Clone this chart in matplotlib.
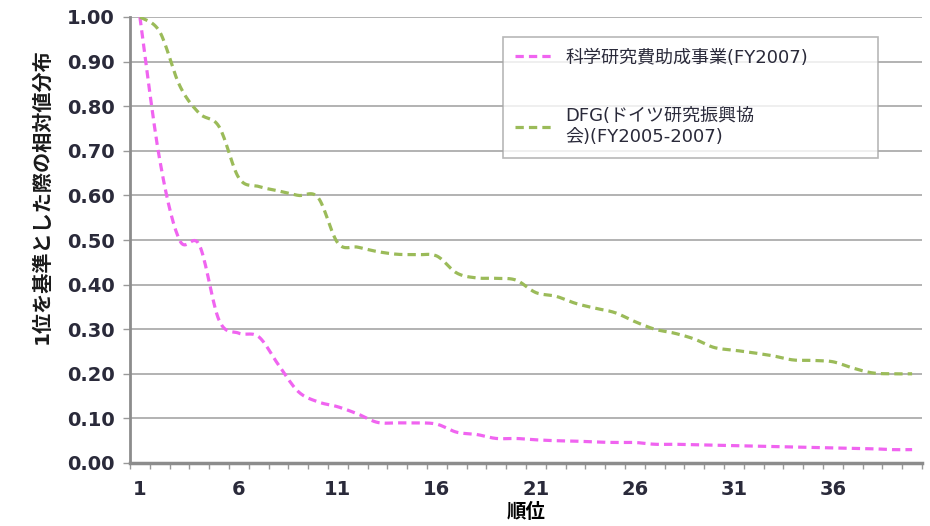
import numpy as np
import matplotlib
matplotlib.use("Agg")
import matplotlib.pyplot as plt

plt.rcParams['font.family'] = ['DejaVu Sans', 'Noto Sans CJK JP']

# ranks 1..40
ranks = list(range(1, 41))

kaken = [1.00, 0.68, 0.50, 0.489, 0.32, 0.291, 0.283, 0.22, 0.16, 0.137,
         0.126, 0.110, 0.091, 0.090, 0.090, 0.087, 0.069, 0.064, 0.055, 0.055,
         0.052, 0.050, 0.049, 0.047, 0.046, 0.046, 0.042, 0.042, 0.041, 0.040,
         0.039, 0.038, 0.037, 0.036, 0.035, 0.034, 0.033, 0.032, 0.030, 0.030]

dfg = [1.00, 0.967, 0.847, 0.784, 0.754, 0.639, 0.620, 0.610, 0.600, 0.595,
       0.493, 0.484, 0.474, 0.468, 0.467, 0.464, 0.426, 0.415, 0.414, 0.410,
       0.382, 0.374, 0.358, 0.347, 0.337, 0.317, 0.300, 0.291, 0.278, 0.259,
       0.253, 0.247, 0.240, 0.231, 0.230, 0.227, 0.213, 0.202, 0.200, 0.200]

labels = ["科学研究費助成事業(FY2007)", "DFG(ドイツ研究振興協\n会)(FY2005-2007)"]
colors = ["#f064f0", "#9bbb59"]
xticks = [1, 6, 11, 16, 21, 26, 31, 36]


def smooth(x, y, n=16):
    # Catmull-Rom curve through the points, like Excel's smoothed lines
    x = np.asarray(x, float)
    y = np.asarray(y, float)
    px = np.concatenate([[x[0]], x, [x[-1]]])
    py = np.concatenate([[y[0]], y, [y[-1]]])
    t = np.linspace(0, 1, n, endpoint=False)
    xs, ys = [], []
    for i in range(1, len(px) - 2):
        for p, out in ((px, xs), (py, ys)):
            p0, p1, p2, p3 = p[i - 1], p[i], p[i + 1], p[i + 2]
            out.extend(0.5 * (2 * p1 + (-p0 + p2) * t
                              + (2 * p0 - 5 * p1 + 4 * p2 - p3) * t ** 2
                              + (-p0 + 3 * p1 - 3 * p2 + p3) * t ** 3))
    xs.append(x[-1])
    ys.append(y[-1])
    return xs, ys


fig = plt.figure(figsize=(9.3, 5.26), dpi=100)
ax = fig.add_axes([130 / 930, 1 - 463 / 526, 792 / 930, 446 / 526])

for vals, lab, col in zip([kaken, dfg], labels, colors):
    sx, sy = smooth(ranks, vals)
    ax.plot(sx, sy, color=col, lw=2.3, ls=(0, (2.6, 1.6)), label=lab)

ax.set_xlim(0.5, 40.5)
ax.set_ylim(0, 1.0)
ax.set_yticks(np.arange(0, 1.01, 0.1))
ax.set_yticklabels(["%.2f" % v for v in np.arange(0, 1.01, 0.1)])
ax.set_xticks(xticks)
ax.set_xticks(np.arange(0.5, 41, 1), minor=True)
ax.tick_params(axis='x', which='major', length=0, pad=12)
ax.tick_params(axis='x', which='minor', length=4, color='#999999', width=1)
ax.tick_params(axis='y', length=5, color='#999999', width=1, pad=6)
ax.tick_params(labelsize=14, labelcolor='#2a2a3a')
for t in ax.get_xticklabels() + ax.get_yticklabels():
    t.set_fontweight('bold')

ax.grid(axis='y', color='#a6a6a6', lw=1.2)
ax.set_axisbelow(True)
for s in ['top', 'right']:
    ax.spines[s].set_visible(False)
ax.spines['left'].set_color('#8c8c8c')
ax.spines['left'].set_linewidth(2)
ax.spines['bottom'].set_color('#8c8c8c')
ax.spines['bottom'].set_linewidth(2.5)

fig.text(42 / 930, 1 - 196 / 526, "1位を基準とした際の相対値分布", rotation=90,
         fontsize=14.5, fontweight='bold', ha='center', va='center', color='#1a1a1a')
ax.set_xlabel("順位", fontsize=14, fontweight='bold', labelpad=3)

leg = ax.legend(loc='upper left', bbox_to_anchor=(503 / 930, 1 - 152 / 526, 375 / 930, 115 / 526),
                bbox_transform=fig.transFigure, mode='expand', borderaxespad=0,
                fontsize=13, frameon=True, fancybox=False, edgecolor='#a6a6a6',
                handlelength=2.2, handletextpad=0.6, labelspacing=2.25, borderpad=0.65)
leg.get_frame().set_linewidth(1.2)
for txt in leg.get_texts():
    txt.set_color('#2a2a3a')

fig.savefig("out.png", dpi=100)
